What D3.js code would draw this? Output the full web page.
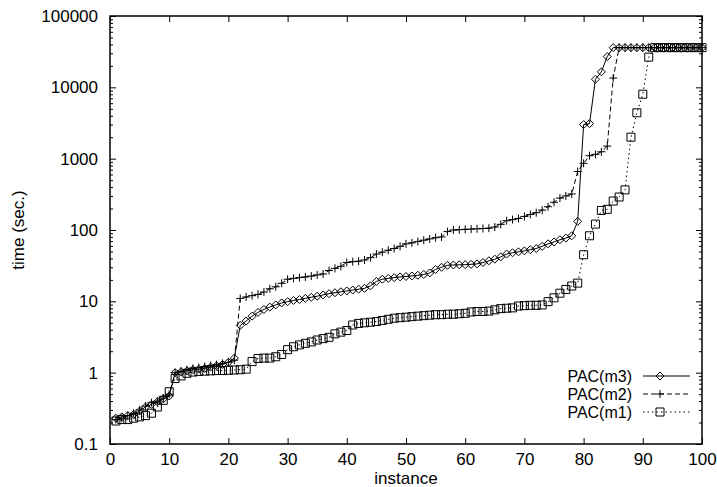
<!DOCTYPE html>
<html>
<head>
<meta charset="utf-8">
<script src="https://cdn.jsdelivr.net/npm/d3@7"></script>
<style>
  body { margin: 0; background: #fff; }
  svg { display: block; }
  text { font-family: "Liberation Sans", Arial, Helvetica, sans-serif; fill: #000; }
</style>
</head>
<body>
<div id="chart"></div>
<script>
// instance numbers 1..100
const instances = d3.range(1, 101);

const pacM3 = [
  0.23, 0.24, 0.25, 0.26, 0.29, 0.33, 0.36, 0.39, 0.43, 0.47,
  1.0, 1.03, 1.06, 1.1, 1.12, 1.15, 1.2, 1.25, 1.3, 1.4,
  1.6, 4.6, 5.3, 6.2, 7.0, 7.7, 8.3, 8.9, 9.5, 9.9,
  10.3, 10.6, 11.0, 11.4, 11.8, 12.3, 12.8, 13.2, 13.6, 14.0,
  14.4, 14.8, 15.2, 16.5, 19.0, 20.4, 21.0, 21.5, 22.0, 22.3,
  22.7, 23.2, 23.8, 25, 28, 30, 32, 32.3, 32.5, 32.7,
  33, 33.5, 35, 37, 39, 42, 46, 48, 49.5, 51,
  53, 55, 59, 64, 68, 73, 77, 83, 132, 3000,
  3100, 13000, 16500, 27000, 36000, 36000, 36000, 36000, 36000, 36000,
  36000, 36000, 36000, 36000, 36000, 36000, 36000, 36000, 36000, 36000
];

const pacM2 = [
  0.22, 0.23, 0.25, 0.27, 0.3, 0.34, 0.38, 0.4, 0.44, 0.5,
  1.0, 1.05, 1.1, 1.15, 1.18, 1.22, 1.26, 1.3, 1.35, 1.4,
  1.5, 11, 11.5, 12, 12.5, 13.5, 15, 16, 17.9, 20.4,
  21, 21.5, 22, 22.6, 23.5, 24.2, 27, 29, 31, 35,
  36, 36.5, 38, 41, 46, 49, 52, 55, 59, 64,
  66, 69, 72, 75, 78, 80, 95, 100, 101, 102,
  103, 104, 105, 106, 110, 120, 135, 140, 145, 155,
  165, 175, 190, 212, 245, 280, 300, 320, 660, 860,
  1100, 1150, 1250, 1500, 13500, 36000, 36000, 36000, 36000, 36000,
  36000, 36000, 36000, 36000, 36000, 36000, 36000, 36000, 36000, 36000
];

const pacM1 = [
  0.21, 0.22, 0.22, 0.23, 0.24, 0.25, 0.27, 0.33, 0.41, 0.54,
  0.83, 0.9, 0.98, 1.02, 1.04, 1.05, 1.06, 1.07, 1.07, 1.08,
  1.09, 1.1, 1.12, 1.43, 1.58, 1.6, 1.6, 1.67, 1.8, 2.1,
  2.31, 2.45, 2.58, 2.7, 2.87, 3.0, 3.13, 3.5, 3.7, 3.9,
  4.66, 4.9, 5.0, 5.1, 5.2, 5.4, 5.6, 5.8, 5.9, 6.0,
  6.1, 6.2, 6.3, 6.4, 6.5, 6.5, 6.6, 6.6, 6.7, 6.8,
  7.1, 7.2, 7.2, 7.3, 7.6, 7.9, 8.0, 8.1, 8.6, 8.7,
  8.8, 8.8, 8.9, 9.9, 11.2, 13, 14.7, 16.4, 18, 45,
  83, 121, 188, 195, 255, 290, 365, 2000, 4400, 8000,
  26500, 36000, 36000, 36000, 36000, 36000, 36000, 36000, 36000, 36000
];

const seriesNames = ["PAC(m3)", "PAC(m2)", "PAC(m1)"];
const xTicks = d3.range(0, 101, 10);
const yTicks = [0.1, 1, 10, 100, 1000, 10000, 100000];

const W = 717, H = 487;
const margin = { left: 110, right: 15, top: 16, bottom: 43 };

const svg = d3.select("#chart").append("svg")
  .attr("width", W)
  .attr("height", H);

const x = d3.scaleLinear().domain([0, 100]).range([margin.left, W - margin.right]);
const y = d3.scaleLog().domain([0.1, 100000]).range([H - margin.bottom, margin.top]);

// minor ticks 2..9 inside each decade
const yMinor = [];
yTicks.slice(0, -1).forEach(d => {
  for (let k = 2; k <= 9; k++) yMinor.push(d * k);
});

const fmtY = d => d < 1 ? "0.1" : d3.format("d")(d);

// axes
svg.append("g")
  .attr("transform", `translate(0,${y.range()[0]})`)
  .call(d3.axisBottom(x).tickValues(xTicks).tickSize(-6).tickPadding(9))
  .call(g => g.selectAll("text").attr("font-size", 17));

svg.append("g")
  .attr("transform", `translate(0,${y.range()[1]})`)
  .call(d3.axisTop(x).tickValues(xTicks).tickSize(-6).tickFormat(""));

svg.append("g")
  .attr("transform", `translate(${x.range()[0]},0)`)
  .call(d3.axisLeft(y).tickValues(yTicks).tickSize(-6).tickPadding(12).tickFormat(fmtY))
  .call(g => g.selectAll("text").attr("font-size", 17));

svg.append("g")
  .attr("transform", `translate(${x.range()[0]},0)`)
  .call(d3.axisLeft(y).tickValues(yMinor).tickSize(-3).tickFormat(""));

svg.append("g")
  .attr("transform", `translate(${x.range()[1]},0)`)
  .call(d3.axisRight(y).tickValues(yTicks).tickSize(-6).tickFormat(""));

svg.append("g")
  .attr("transform", `translate(${x.range()[1]},0)`)
  .call(d3.axisRight(y).tickValues(yMinor).tickSize(-3).tickFormat(""));

svg.selectAll(".domain").remove();
svg.selectAll(".tick line").attr("stroke", "#000");

// frame
svg.append("rect")
  .attr("x", x.range()[0])
  .attr("y", y.range()[1])
  .attr("width", x.range()[1] - x.range()[0])
  .attr("height", y.range()[0] - y.range()[1])
  .attr("fill", "none")
  .attr("stroke", "#000")
  .attr("stroke-width", 1.5);

// axis titles
svg.append("text")
  .attr("x", (x.range()[0] + x.range()[1]) / 2)
  .attr("y", H - 3)
  .attr("text-anchor", "middle")
  .attr("font-size", 17)
  .text("instance");

svg.append("text")
  .attr("transform", `translate(24,${(y.range()[0] + y.range()[1]) / 2}) rotate(-90)`)
  .attr("text-anchor", "middle")
  .attr("font-size", 17)
  .text("time (sec.)");

// series
const markerPaths = {
  diamond: "M0,-4L4,0L0,4L-4,0Z",
  plus: "M-4,0H4M0,-4V4",
  square: "M-4,-4H4V4H-4Z"
};

const series = [
  { name: seriesNames[0], values: pacM3, dash: null, marker: "diamond" },
  { name: seriesNames[1], values: pacM2, dash: "5,3", marker: "plus" },
  { name: seriesNames[2], values: pacM1, dash: "1.5,3", marker: "square" }
];

const line = d3.line()
  .x((d, i) => x(instances[i]))
  .y(d => y(d));

const plot = svg.append("g");

series.forEach(s => {
  plot.append("path")
    .datum(s.values)
    .attr("d", line)
    .attr("fill", "none")
    .attr("stroke", "#000")
    .attr("stroke-width", 1)
    .attr("stroke-dasharray", s.dash);

  plot.append("g")
    .selectAll("path")
    .data(s.values)
    .enter().append("path")
    .attr("transform", (d, i) => `translate(${x(instances[i])},${y(d)})`)
    .attr("d", markerPaths[s.marker])
    .attr("fill", "none")
    .attr("stroke", "#000")
    .attr("stroke-width", 1);
});

// legend
const legend = svg.append("g");
series.forEach((s, i) => {
  const ly = 376 + i * 18;
  legend.append("text")
    .attr("x", 632)
    .attr("y", ly)
    .attr("dy", "0.35em")
    .attr("text-anchor", "end")
    .attr("font-size", 16)
    .text(s.name);
  legend.append("line")
    .attr("x1", 643).attr("x2", 690)
    .attr("y1", ly).attr("y2", ly)
    .attr("stroke", "#000")
    .attr("stroke-width", 1)
    .attr("stroke-dasharray", s.dash);
  legend.append("path")
    .attr("transform", `translate(660,${ly})`)
    .attr("d", markerPaths[s.marker])
    .attr("fill", "none")
    .attr("stroke", "#000");
});
</script>
</body>
</html>
